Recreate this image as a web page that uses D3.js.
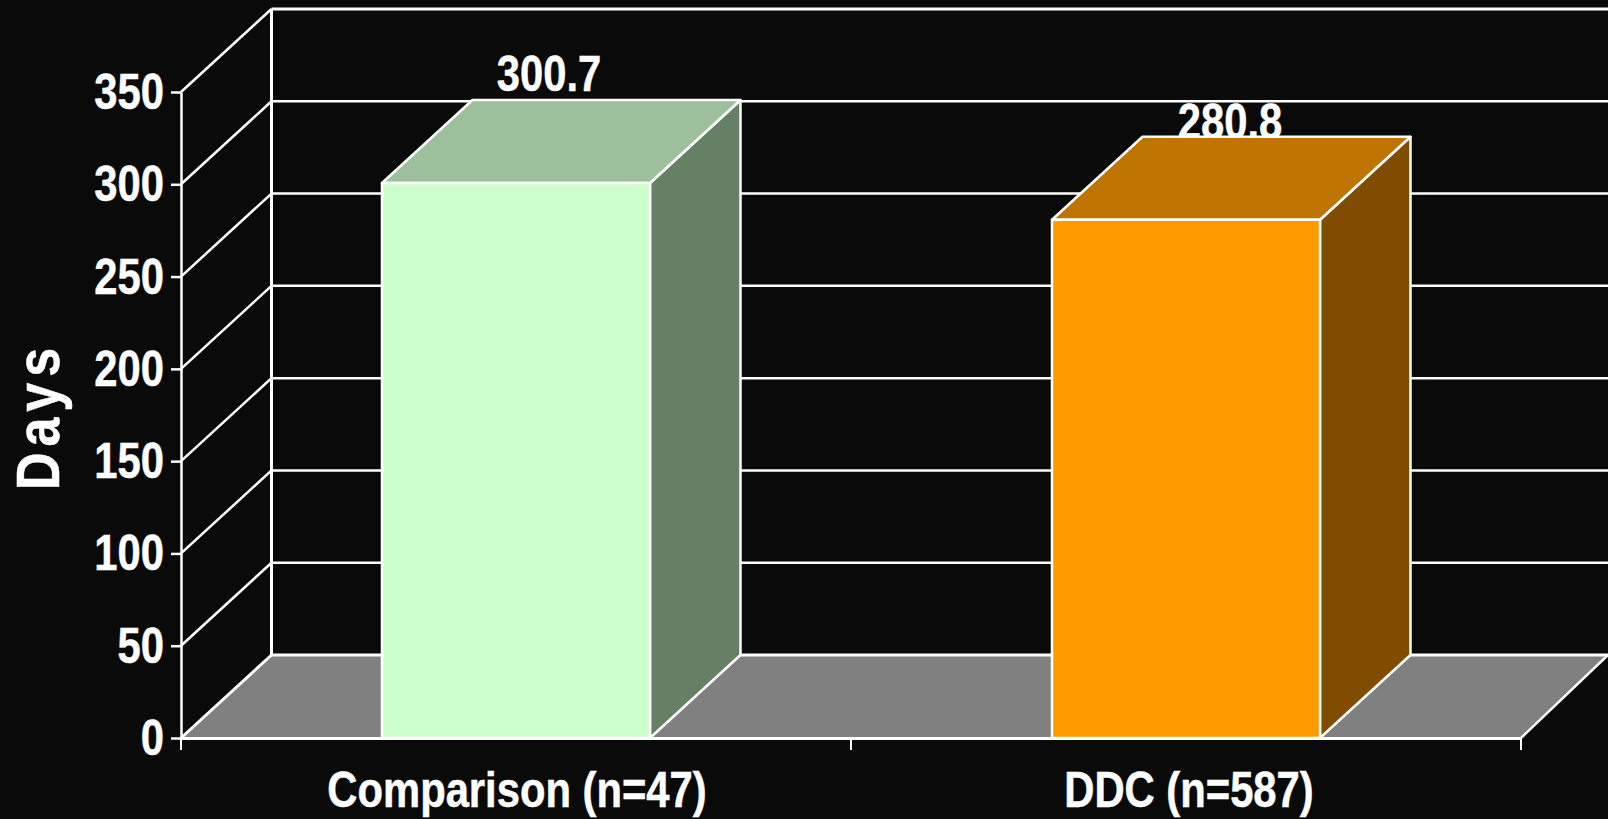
<!DOCTYPE html>
<html>
<head>
<meta charset="utf-8">
<script src="https://d3js.org/d3.v7.min.js"></script>
<style>
    html, body { margin: 0; padding: 0; background: #0a0a0a; overflow: hidden; }
    text { font-family: "Liberation Sans", sans-serif; font-weight: bold; fill: white; stroke: white; stroke-width: 0.5px; }
</style>
</head>
<body>
<script>
    // values
    const categories = ["Comparison (n=47)", "DDC (n=587)"];
    const values = [300.7, 280.8];
    const valueLabels = ["300.7", "280.8"];
    const yTicks = [0, 50, 100, 150, 200, 250, 300, 350];
    const frontColors = ["#ccffcc", "#ff9900"];
    const topColors = ["#9cbf9c", "#bf7300"];
    const sideColors = ["#668066", "#804d00"];

    const width = 1608;
    const height = 819;
    const plotLeft = 181, plotRight = 1521, plotBottom = 738, plotTop = 92;
    const depthX = 90.5, depthY = -83;
    const fontSize = "50px";

    const svg = d3.select("body").append("svg")
        .attr("width", width)
        .attr("height", height)
        .style("display", "block")
        .style("background-color", "#0a0a0a");

    const y = d3.scaleLinear().domain([0, 350]).range([plotBottom, plotTop]);
    const x = d3.scaleBand().domain(categories).range([plotLeft, plotRight]);
    const barWidth = x.bandwidth() * 0.4;
    const barX = function (d) { return x(d) + (x.bandwidth() - barWidth) / 2; };

    const poly = function (pts) { return pts.map(function (p) { return p.join(","); }).join(" "); };

    // no narrow bold font installed, so squeeze the glyphs of the normal one
    function narrow(sel) {
        sel.each(function () {
            d3.select(this)
                .attr("textLength", this.getComputedTextLength() * 0.835)
                .attr("lengthAdjust", "spacingAndGlyphs");
        });
    }

    // floor
    svg.append("polygon")
        .attr("points", poly([[plotLeft, plotBottom], [plotLeft + depthX, plotBottom + depthY], [width, plotBottom + depthY], [plotRight, plotBottom]]))
        .attr("fill", "#808080");

    // back wall gridlines and side wall diagonals
    const grid = svg.append("g").attr("stroke", "white").attr("fill", "none");
    yTicks.forEach(function (t) {
        grid.append("line")
            .attr("x1", plotLeft).attr("y1", y(t))
            .attr("x2", plotLeft + depthX).attr("y2", y(t) + depthY)
            .attr("stroke-width", t == 0 ? 3 : 2.5);
        grid.append("line")
            .attr("x1", plotLeft + depthX).attr("y1", y(t) + depthY)
            .attr("x2", width).attr("y2", y(t) + depthY)
            .attr("stroke-width", t == 0 || t == 350 ? 3 : 2.5);
    });
    grid.append("line")
        .attr("x1", plotLeft + depthX).attr("y1", y(350) + depthY)
        .attr("x2", plotLeft + depthX).attr("y2", y(0) + depthY)
        .attr("stroke-width", 3);
    grid.append("line")
        .attr("x1", plotRight).attr("y1", y(0))
        .attr("x2", width).attr("y2", y(0) + depthY)
        .attr("stroke-width", 2.5);

    // value labels go under the bars, the second one gets cut by its top face
    svg.selectAll(".value")
        .data(values)
        .enter()
        .append("text")
        .attr("class", "value")
        .text(function (d, i) { return valueLabels[i]; })
        .attr("x", function (d, i) { return barX(categories[i]) + barWidth / 2 + (i == 0 ? 33 : 44); })
        .attr("y", function (d, i) { return y(d) + depthY + (i == 0 ? -9 : 2); })
        .attr("text-anchor", "middle")
        .style("font-size", fontSize)
        .call(narrow);

    // bars
    const bars = svg.selectAll(".bar")
        .data(values)
        .enter()
        .append("g")
        .attr("class", "bar")
        .attr("stroke", "white")
        .attr("stroke-width", 2.5)
        .attr("stroke-linejoin", "round");

    bars.append("polygon")
        .attr("fill", function (d, i) { return sideColors[i]; })
        .attr("points", function (d, i) {
            const x1 = barX(categories[i]) + barWidth;
            return poly([[x1, y(0)], [x1, y(d)], [x1 + depthX, y(d) + depthY], [x1 + depthX, y(0) + depthY]]);
        });
    bars.append("polygon")
        .attr("fill", function (d, i) { return topColors[i]; })
        .attr("points", function (d, i) {
            const x0 = barX(categories[i]);
            const x1 = x0 + barWidth;
            return poly([[x0, y(d)], [x1, y(d)], [x1 + depthX, y(d) + depthY], [x0 + depthX, y(d) + depthY]]);
        });
    bars.append("rect")
        .attr("fill", function (d, i) { return frontColors[i]; })
        .attr("x", function (d, i) { return barX(categories[i]); })
        .attr("y", function (d) { return y(d); })
        .attr("width", barWidth)
        .attr("height", function (d) { return y(0) - y(d); });

    // axes
    const yAxis = svg.append("g")
        .attr("transform", "translate(" + plotLeft + ",0)")
        .attr("color", "white")
        .call(d3.axisLeft(y).tickValues(yTicks).tickSize(10).tickPadding(7).tickSizeOuter(0));
    yAxis.selectAll("text").style("font-size", fontSize).attr("dy", "0.33em").call(narrow);
    yAxis.selectAll(".tick line").attr("stroke-width", 2.5);
    yAxis.select(".domain").attr("stroke-width", 2.5);

    const xAxis = svg.append("g")
        .attr("transform", "translate(0," + plotBottom + ")")
        .attr("color", "white")
        .call(d3.axisBottom(x).tickSize(0).tickPadding(33).tickSizeOuter(0));
    xAxis.selectAll("text").style("font-size", fontSize).attr("dy", "0.71em").call(narrow);
    xAxis.selectAll("text").attr("x", function (d, i) { return i == 0 ? 1 : 3; });
    xAxis.select(".domain").attr("stroke-width", 3);

    // ticks under the floor sit on the band edges
    const under = svg.append("g").attr("stroke", "white").attr("stroke-width", 2);
    categories.map(function (c) { return x(c); }).concat([plotRight]).forEach(function (px) {
        under.append("line").attr("x1", px).attr("x2", px).attr("y1", plotBottom).attr("y2", plotBottom + 12);
    });

    svg.append("text")
        .text("Days")
        .attr("transform", "translate(59,416) rotate(-90) scale(0.84,1)")
        .attr("text-anchor", "middle")
        .style("font-size", "62px")
        .style("letter-spacing", "7px");
</script>
</body>
</html>
